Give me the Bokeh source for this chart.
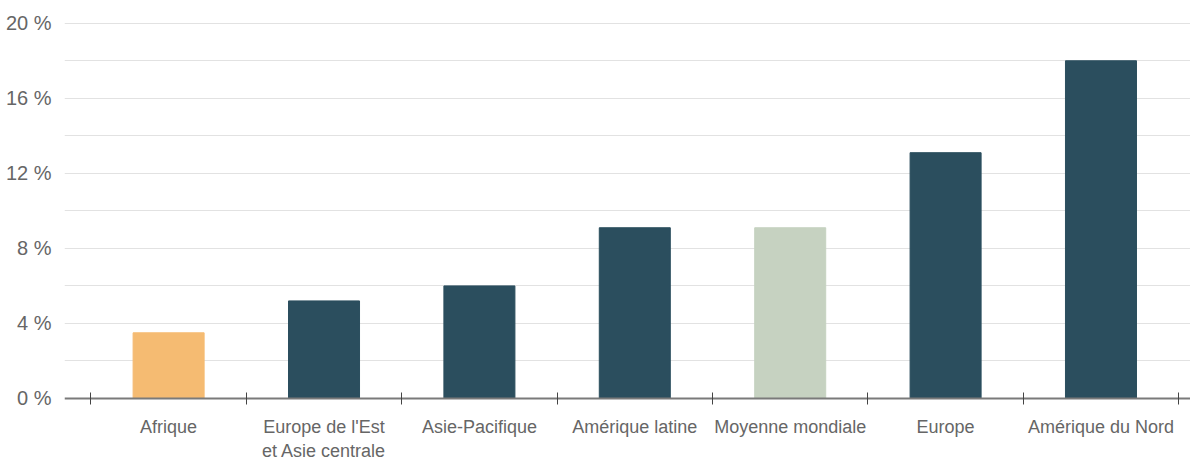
from bokeh.plotting import figure
from bokeh.models import ColumnDataSource, FixedTicker, CustomJSTickFormatter, Range1d
from bokeh.embed import file_html
from bokeh.resources import INLINE

# Regional shares (%)
categories = [
    "Afrique",
    "Europe de l'Est\net Asie centrale",
    "Asie-Pacifique",
    "Amérique latine",
    "Moyenne mondiale",
    "Europe",
    "Amérique du Nord",
]
values = [3.5, 5.2, 6.0, 9.1, 9.1, 13.1, 18.0]
y_ticks = [0, 4, 8, 12, 16, 20]
grid_ticks = [2, 4, 6, 8, 10, 12, 14, 16, 18, 20]

DARK = "#2b4e5e"
ORANGE = "#f5bb72"
AVERAGE = "#c6d2c1"
special = {"Afrique": ORANGE, "Moyenne mondiale": AVERAGE}

centers = [i + 0.5 for i in range(len(categories))]
colors = [special.get(c, DARK) for c in categories]

source = ColumnDataSource(dict(x=centers, top=values, color=colors))

# The frame runs down to the bottom edge; the category axis sits at zero
# inside it, so its labels have room underneath.
p = figure(
    width=1190,
    height=461,
    output_backend="svg",
    toolbar_location=None,
    x_range=Range1d(-0.17, 7.076),
    y_range=Range1d(-3.36, 20.2),
    min_border_left=64,
    min_border_right=0,
    min_border_top=19,
    min_border_bottom=0,
)
p.outline_line_color = None
p.background_fill_color = "white"
p.border_fill_color = "white"

p.vbar(x="x", top="top", bottom=0, width=0.457, color="color", source=source)

FONT = "Liberation Sans"
TEXT = "#666666"

xax = p.xaxis[0]
xax.fixed_location = 0
xax.ticker = FixedTicker(ticks=centers, minor_ticks=list(range(len(categories) + 1)))
xax.major_label_overrides = {c: lab for c, lab in zip(centers, categories)}
xax.major_tick_line_color = None
xax.major_tick_in = 0
xax.major_tick_out = 0
xax.minor_tick_in = 6
xax.minor_tick_out = 6
xax.minor_tick_line_color = "#444444"
xax.minor_tick_line_width = 1
xax.axis_line_color = "#7a7a7a"
xax.axis_line_width = 2
xax.major_label_text_font = FONT
xax.major_label_text_font_size = "18px"
xax.major_label_text_color = TEXT
xax.major_label_standoff = 13

yax = p.yaxis[0]
yax.ticker = FixedTicker(ticks=y_ticks)
yax.formatter = CustomJSTickFormatter(code="return tick + ' %';")
yax.axis_line_color = None
yax.major_tick_line_color = None
yax.minor_tick_line_color = None
yax.major_label_text_font = FONT
yax.major_label_text_font_size = "20px"
yax.major_label_text_color = TEXT
yax.major_label_standoff = 7

p.xgrid.grid_line_color = None
p.ygrid.ticker = FixedTicker(ticks=grid_ticks)
p.ygrid.grid_line_color = "#e2e2e2"
p.ygrid.grid_line_width = 1

open("out.html", "w").write(file_html(p, INLINE))
